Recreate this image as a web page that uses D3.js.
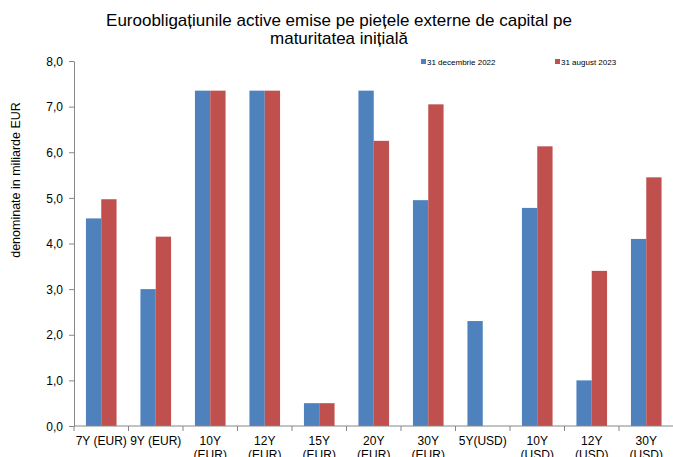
<!DOCTYPE html>
<html>
<head>
<meta charset="utf-8">
<script src="https://cdn.jsdelivr.net/npm/d3@7"></script>
<style>
  body { margin: 0; background: #fff; }
  svg { font-family: "Liberation Sans", Arial, sans-serif; }
</style>
</head>
<body>
<svg id="chart" width="673" height="457"></svg>
<script>
"use strict";

const categories = [
	["7Y (EUR)"], ["9Y (EUR)"], ["10Y", "(EUR)"], ["12Y", "(EUR)"], ["15Y", "(EUR)"],
	["20Y", "(EUR)"], ["30Y", "(EUR)"], ["5Y(USD)"], ["10Y", "(USD)"], ["12Y", "(USD)"], ["30Y", "(USD)"]
];
const series_names = ["31 decembrie 2022", "31 august 2023"];
const dec2022 = [4.55, 3.0, 7.35, 7.35, 0.5, 7.35, 4.95, 2.3, 4.78, 1.0, 4.1];
const aug2023 = [4.97, 4.15, 7.35, 7.35, 0.5, 6.25, 7.05, null, 6.13, 3.4, 5.45];
const y_ticks = [0, 1, 2, 3, 4, 5, 6, 7, 8];
const colors = ["#4F81BD", "#C0504D"];

const svg = d3.select('#chart');
const m = { left: 74, right: -0.5, top: 61, bottom: 31 };
const W = 673, H = 457;

const keys = categories.map((c, i) => i);
const x = d3.scaleBand().domain(keys).range([m.left, W - m.right]);
const xs = d3.scaleBand().domain([0, 1]).range([0, x.bandwidth()]).paddingInner(0).paddingOuter(0.78);
const y = d3.scaleLinear().domain([0, 8]).range([H - m.bottom, m.top]);

// bars
const rows = keys.map((i) => [dec2022[i], aug2023[i]]);
const g = svg.append('g');
rows.forEach((vals, i) => {
	vals.forEach((v, s) => {
		if(v == null) return;
		g.append('rect')
			.attr('x', x(i) + xs(s))
			.attr('y', y(v))
			.attr('width', xs.bandwidth())
			.attr('height', y(0) - y(v))
			.attr('fill', colors[s]);
	});
});

// y axis
const ya = svg.append('g')
	.attr('transform', `translate(${m.left},0)`)
	.call(d3.axisLeft(y).tickValues(y_ticks).tickSize(5).tickSizeOuter(0)
		.tickFormat((d) => d3.format('.1f')(d).replace('.', ',')));
ya.select('.domain').attr('stroke', '#868686');
ya.selectAll('line').attr('stroke', '#868686');
ya.selectAll('text').attr('font-size', 12).attr('fill', '#000').attr('x', -11).attr('dy', '0.35em');

// x axis
const xa = svg.append('g').attr('transform', `translate(0,${y(0)})`);
xa.append('line').attr('x1', m.left).attr('x2', W).attr('stroke', '#868686');
keys.forEach((i) => {
	const px = x(i);
	xa.append('line').attr('x1', px).attr('x2', px).attr('y1', 0).attr('y2', 5).attr('stroke', '#868686');
});
categories.forEach((lines, i) => {
	const t = xa.append('text')
		.attr('x', x(i) + x.bandwidth() / 2)
		.attr('y', 19)
		.attr('text-anchor', 'middle')
		.attr('font-size', 12);
	lines.forEach((ln, j) => {
		t.append('tspan').attr('x', x(i) + x.bandwidth() / 2).attr('dy', j ? 14 : 0).text(ln);
	});
});

// y label
svg.append('text')
	.attr('transform', 'translate(20,180) rotate(-90)')
	.attr('text-anchor', 'middle')
	.attr('font-size', 12.5)
	.text('denominate in miliarde EUR');

// title
const title = svg.append('text').attr('text-anchor', 'middle').attr('font-size', 17);
title.append('tspan').attr('x', 339).attr('y', 26).text('Euroobligațiunile active emise pe piețele externe de capital pe');
title.append('tspan').attr('x', 339).attr('y', 44).text('maturitatea inițială');

// legend
const lx = [421, 555];
series_names.forEach((name, s) => {
	svg.append('rect').attr('x', lx[s]).attr('y', 59).attr('width', 5).attr('height', 5).attr('fill', colors[s]);
	svg.append('text').attr('x', lx[s] + 6).attr('y', 64.5).attr('font-size', 8).text(name);
});
</script>
</body>
</html>
